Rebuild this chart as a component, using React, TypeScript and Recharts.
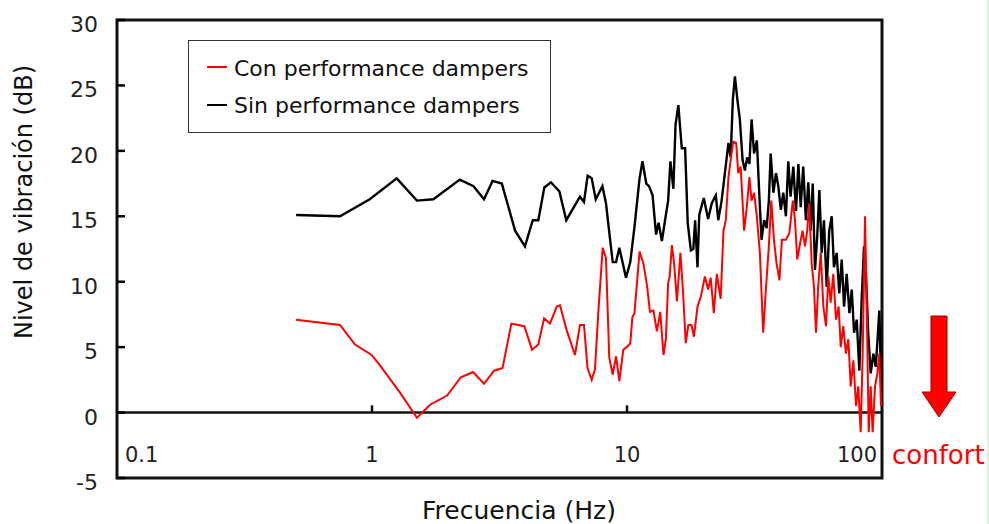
import React from 'react';
import { LineChart, Line, XAxis, YAxis, ReferenceArea, ReferenceLine, Legend } from 'recharts';

const FONT = '"DejaVu Sans", "Liberation Sans", sans-serif';

const xTicks = [0.1, 1, 10, 100];
const innerXTicks = [1, 10];
const yTicks = [-5, 0, 5, 10, 15, 20, 25, 30];

const seriesNames = ['Con performance dampers', 'Sin performance dampers'];
const seriesColors = ['#ff0000', '#000000'];

const xTitle = 'Frecuencia (Hz)';
const yTitle = 'Nivel de vibración (dB)';
const noteText = 'confort';

// Sin performance dampers (black)
const sinFreq = [
  0.504, 0.749, 0.98, 1.25, 1.5, 1.74, 2.21, 2.5, 2.75, 2.97,
  3.23, 3.64, 3.98, 4.27, 4.49, 4.74, 5.03, 5.43, 5.78, 6.54,
  6.78, 7.01, 7.27, 7.54, 8.01, 8.27, 8.53, 8.79, 9.06, 9.33,
  9.91, 10.3, 10.7, 11.2, 11.5, 11.9, 12.2, 12.6, 13.0, 13.3,
  13.7, 14.1, 14.5, 14.8, 15.2, 15.5, 15.9, 16.4, 16.9, 17.3,
  17.8, 18.2, 18.5, 18.9, 19.2, 20.0, 20.8, 21.5, 22.3, 22.8,
  23.5, 24.2, 25.0, 25.5, 26.0, 26.5, 27.1, 27.7, 28.4, 29.0,
  29.6, 30.2, 30.8, 31.5, 32.3, 33.0, 33.7, 34.5, 35.3, 36.0,
  36.6, 37.5, 38.4, 39.2, 40.1, 41.0, 42.0, 42.9, 43.8, 44.9,
  46.0, 47.0, 48.0, 49.1, 50.3, 51.4, 52.5, 53.5, 54.6, 55.7,
  56.8, 58.0, 59.2, 60.7, 62.1, 63.5, 64.8, 66.4, 68.0, 69.5,
  71.0, 72.7, 74.5, 76.1, 77.7, 79.6, 81.5, 83.2, 85.0, 86.5,
  88.3, 90.3, 92.5, 94.5, 96.2, 97.6, 99.1,
];
const sinDb = [
  15.1, 15.0, 16.3, 17.9, 16.2, 16.3, 17.8, 17.3, 16.3, 17.7,
  17.5, 13.9, 12.7, 14.7, 14.7, 17.2, 17.6, 16.9, 14.7, 16.5,
  16.1, 18.1, 17.9, 16.3, 17.3, 16.0, 13.7, 11.5, 11.5, 12.6,
  10.3, 11.5, 14.2, 17.9, 19.2, 17.5, 17.3, 16.6, 13.6, 14.5,
  13.1, 14.7, 16.2, 19.2, 17.1, 22.0, 23.5, 20.2, 20.2, 14.5,
  12.4, 12.5, 14.7, 11.1, 15.1, 16.4, 14.8, 16.0, 16.6, 14.7,
  16.2, 18.3, 20.6, 19.5, 23.9, 25.7, 23.9, 22.4, 19.3, 18.5,
  19.5, 19.0, 22.4, 19.8, 20.8, 16.8, 13.2, 14.7, 14.1, 16.2,
  19.8, 16.8, 18.3, 17.3, 15.5, 16.8, 15.0, 19.2, 16.5, 18.8,
  15.4, 19.0, 15.7, 18.8, 14.7, 17.6, 13.9, 17.5, 10.9, 13.4,
  17.0, 12.2, 14.7, 9.6, 13.9, 15.0, 11.1, 12.2, 9.1, 11.7,
  8.1, 10.6, 7.6, 9.4, 6.1, 7.1, 3.2, 8.6, 12.7, 10.6,
  6.1, 3.0, 4.5, 3.5, 5.8, 7.8, 2.7,
];

// Con performance dampers (red)
const conFreq = [
  0.504, 0.749, 0.858, 0.997, 1.075, 1.29, 1.5, 1.69, 1.97, 2.23,
  2.49, 2.75, 3.01, 3.25, 3.52, 3.96, 4.24, 4.49, 4.73, 4.99,
  5.3, 5.46, 5.8, 6.25, 6.54, 6.78, 7.0, 7.27, 7.49, 7.72,
  8.03, 8.27, 8.52, 8.79, 9.06, 9.33, 9.67, 9.97, 10.3, 10.5,
  10.7, 11.2, 11.6, 12.0, 12.3, 12.7, 13.1, 13.5, 13.9, 14.2,
  14.5, 14.7, 15.0, 15.3, 15.7, 16.2, 16.6, 17.0, 17.4, 17.9,
  18.3, 18.9, 19.5, 20.2, 20.8, 21.3, 21.9, 22.5, 23.3, 23.9,
  24.4, 25.0, 25.5, 26.1, 26.8, 27.3, 27.9, 28.8, 29.5, 30.2,
  30.8, 31.5, 32.3, 33.2, 34.2, 35.1, 36.0, 36.8, 37.7, 38.6,
  39.6, 40.5, 42.0, 43.3, 44.7, 45.6, 46.5, 47.7, 48.8, 49.9,
  50.9, 51.8, 53.0, 54.1, 55.1, 56.2, 57.5, 58.9, 60.3, 61.6,
  62.9, 64.4, 66.0, 67.6, 68.9, 70.5, 72.2, 73.8, 75.4, 77.2,
  79.1, 80.7, 82.5, 84.0, 85.8, 87.1, 88.7, 90.3, 91.9, 93.9,
  95.9, 97.6, 99.1,
];
const conDb = [
  7.1, 6.7, 5.2, 4.4, 3.6, 1.5, -0.4, 0.6, 1.3, 2.7,
  3.1, 2.2, 3.2, 3.4, 6.8, 6.6, 4.8, 5.2, 7.2, 6.8,
  8.1, 8.2, 6.3, 4.4, 6.7, 6.7, 3.4, 2.5, 3.3, 7.7,
  12.6, 11.8, 4.2, 2.9, 4.3, 2.4, 4.8, 5.0, 5.3, 7.3,
  7.6, 12.3, 11.4, 9.6, 7.7, 7.8, 6.2, 7.7, 4.4, 5.6,
  9.9, 10.4, 12.8, 11.4, 8.5, 12.2, 9.1, 5.3, 6.7, 6.7,
  5.8, 8.1, 8.9, 10.4, 9.4, 10.3, 7.6, 10.6, 8.7, 13.9,
  14.7, 18.0, 19.3, 20.7, 20.6, 18.3, 18.8, 13.9, 15.7, 18.0,
  16.2, 16.8, 15.0, 12.2, 6.1, 9.6, 12.7, 16.2, 13.2, 11.4,
  10.1, 13.2, 13.2, 13.7, 16.2, 14.7, 11.7, 12.9, 13.9, 12.7,
  13.9, 16.0, 11.4, 9.6, 6.1, 9.6, 12.2, 8.1, 6.6, 10.4,
  8.4, 10.6, 7.1, 8.1, 5.0, 6.6, 4.5, 5.6, 2.0, 4.0,
  0.5, 2.0, -1.5, 4.5, 15.0, 8.1, -1.5, 2.0, -1.5, 2.0,
  3.0, 4.5, 0.5,
];

const sinData = sinFreq.map((f, i) => ({ f, v: sinDb[i] }));
const conData = conFreq.map((f, i) => ({ f, v: conDb[i] }));

const XTick = (props: any) => {
  const { x, y, payload } = props;
  const val = payload.value;
  const anchor = val === xTicks[0] ? 'start' : val === xTicks[xTicks.length - 1] ? 'end' : 'middle';
  const dx = anchor === 'start' ? 8 : anchor === 'end' ? -5 : 0;
  return (
    <text x={x + dx} y={y - 16} textAnchor={anchor} fontFamily={FONT} fontSize={21} fill="#222">
      {String(val)}
    </text>
  );
};

const YTick = (props: any) => {
  const { x, y, payload } = props;
  return (
    <text x={x} y={y + 12} textAnchor="end" fontFamily={FONT} fontSize={22} fill="#222">
      {String(payload.value)}
    </text>
  );
};

const LegendBox = (props: any) => {
  const payload: any[] = props.payload || [];
  const items = seriesNames.map((name) => payload.find((p) => p.value === name)).filter(Boolean);
  return (
    <svg width={363} height={93} style={{ display: 'block' }}>
      <rect x={0.5} y={0.5} width={362} height={92} fill="#fff" stroke="#333" strokeWidth={1} />
      {items.map((it: any, i: number) => (
        <g key={it.value}>
          <line x1={19} x2={39} y1={27 + i * 38} y2={27 + i * 38} stroke={it.color} strokeWidth={2} />
          <text x={46} y={36 + i * 37} fontFamily={FONT} fontSize={22} fill="#111">
            {it.value}
          </text>
        </g>
      ))}
    </svg>
  );
};

export default function App() {
  return (
    <div style={{ position: 'absolute', left: 0, top: 0, width: 989, height: 524, background: '#fff' }}>
      <LineChart width={989} height={524} margin={{ top: 20, right: 107, bottom: 0, left: 57 }}>
        <XAxis
          dataKey="f"
          type="number"
          scale="log"
          domain={[0.1, 100]}
          ticks={xTicks}
          interval={0}
          allowDataOverflow
          height={46}
          axisLine={false}
          tickLine={false}
          tickSize={0}
          tickMargin={0}
          tick={<XTick />}
        />
        <YAxis
          type="number"
          domain={[-5, 30]}
          ticks={yTicks}
          interval={0}
          allowDataOverflow
          width={60}
          axisLine={false}
          tickSize={-8}
          tickMargin={27}
          tickLine={{ stroke: '#000', strokeWidth: 2.5 }}
          tick={<YTick />}
        />
        <ReferenceLine y={0} stroke="#111" strokeWidth={2.5} ifOverflow="visible" />
        {innerXTicks.map((t) => (
          <ReferenceLine
            key={t}
            segment={[{ x: t, y: 0 }, { x: t, y: 0.55 }]}
            stroke="#111"
            strokeWidth={2.5}
            ifOverflow="visible"
          />
        ))}
        <Line
          data={sinData}
          dataKey="v"
          name={seriesNames[1]}
          stroke={seriesColors[1]}
          strokeWidth={2.4}
          dot={false}
          type="linear"
          isAnimationActive={false}
        />
        <Line
          data={conData}
          dataKey="v"
          name={seriesNames[0]}
          stroke={seriesColors[0]}
          strokeWidth={2}
          dot={false}
          type="linear"
          isAnimationActive={false}
        />
        <ReferenceArea
          x1={0.1}
          x2={100}
          y1={-5}
          y2={30}
          fill="none"
          fillOpacity={0}
          stroke="#111"
          strokeWidth={3}
          ifOverflow="visible"
        />
        <Legend
          layout="vertical"
          align="center"
          verticalAlign="middle"
          wrapperStyle={{ left: 188, top: 40, width: 363, height: 93 }}
          content={<LegendBox />}
        />
      </LineChart>
      <svg
        width={989}
        height={524}
        style={{ position: 'absolute', left: 0, top: 0, pointerEvents: 'none' }}
      >
        <text
          transform="translate(32,202) rotate(-90)"
          textAnchor="middle"
          fontFamily={FONT}
          fontSize={24}
          fill="#111"
        >
          {yTitle}
        </text>
        <text x={519} y={519} textAnchor="middle" fontFamily={FONT} fontSize={25} fill="#111">
          {xTitle}
        </text>
        <polygon
          points="931,316 947,316 947,392 956,392 939,417 922,392 931,392"
          fill="#ff0000"
          stroke="#a00000"
          strokeWidth={1}
        />
        <text x={892} y={464} fontFamily={FONT} fontSize={26} fill="#ff0000">
          {noteText}
        </text>
        <line x1={988} x2={988} y1={0} y2={524} stroke="#d8ecc4" strokeWidth={1.5} />
      </svg>
    </div>
  );
}
